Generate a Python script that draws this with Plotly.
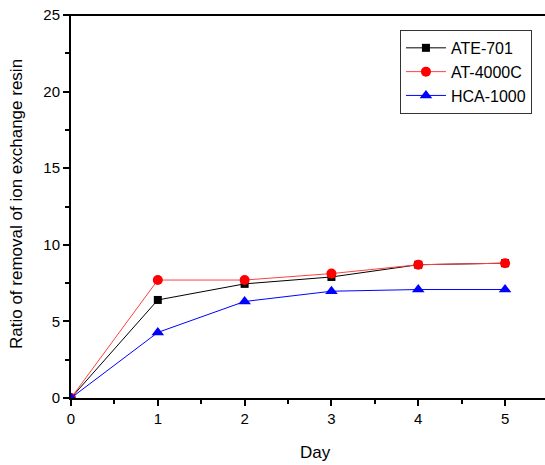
import plotly.graph_objects as go

days = [0, 1, 2, 3, 4, 5]
ate_701 = [0, 6.4, 7.45, 7.9, 8.7, 8.8]
at_4000c = [0, 7.7, 7.7, 8.12, 8.7, 8.8]
hca_1000 = [0, 4.28, 6.3, 6.97, 7.08, 7.08]

fig = go.Figure()
fig.add_trace(go.Scatter(x=days, y=ate_701, name="ATE-701", mode="lines+markers",
                         line=dict(color="black", width=1),
                         marker=dict(symbol="square", size=8, color="black")))
fig.add_trace(go.Scatter(x=days, y=at_4000c, name="AT-4000C", mode="lines+markers",
                         line=dict(color="#ff4040", width=1),
                         marker=dict(symbol="circle", size=10, color="red")))
fig.add_trace(go.Scatter(x=days, y=hca_1000, name="HCA-1000", mode="lines+markers",
                         line=dict(color="blue", width=1),
                         marker=dict(symbol="triangle-up", size=11, color="blue")))

fig.update_layout(
    width=545, height=465,
    margin=dict(l=71, r=0, t=15, b=67, autoexpand=False),
    paper_bgcolor="white", plot_bgcolor="white",
    font=dict(family="Liberation Sans, Arial", size=15, color="black"),
    showlegend=True,
    legend=dict(x=0.694, y=0.961, xanchor="left", yanchor="top",
                bordercolor="#333", borderwidth=1, bgcolor="white",
                font=dict(size=16), tracegroupgap=0, itemwidth=40),
    xaxis=dict(range=[0, 5.46], tickvals=[0, 1, 2, 3, 4, 5], showgrid=False, zeroline=False,
               automargin=False,
               showline=True, linecolor="black", linewidth=2, mirror=False,
               ticks="outside", ticklen=6, tickwidth=1.5, tickcolor="black",
               minor=dict(dtick=0.5, ticks="outside", ticklen=4, tickwidth=1.5, tickcolor="black")),
    yaxis=dict(range=[0, 25], tickvals=[0, 5, 10, 15, 20, 25], showgrid=False, zeroline=False,
               automargin=False,
               showline=True, linecolor="black", linewidth=2,
               ticks="outside", ticklen=6, tickwidth=1.5, tickcolor="black",
               minor=dict(dtick=2.5, ticks="outside", ticklen=4, tickwidth=1.5, tickcolor="black")),
)
# axis titles
fig.add_annotation(text="Day", xref="paper", yref="paper", x=(315 - 71) / 474, y=-(452 - 398) / 383,
                   showarrow=False, font=dict(size=17), xanchor="center", yanchor="middle")
fig.add_annotation(text="Ratio of removal of ion exchange resin", xref="paper", yref="paper",
                   x=-(71 - 16) / 474, y=(398 - 204) / 383, textangle=-90,
                   showarrow=False, font=dict(size=17), xanchor="center", yanchor="middle")
# top frame line
fig.add_shape(type="line", xref="paper", yref="paper", x0=-0.015, x1=1, y0=1, y1=1,
              line=dict(color="black", width=2))

fig.write_html("out.html", config={"displayModeBar": False},
               post_script="document.body.style.margin='0';")
